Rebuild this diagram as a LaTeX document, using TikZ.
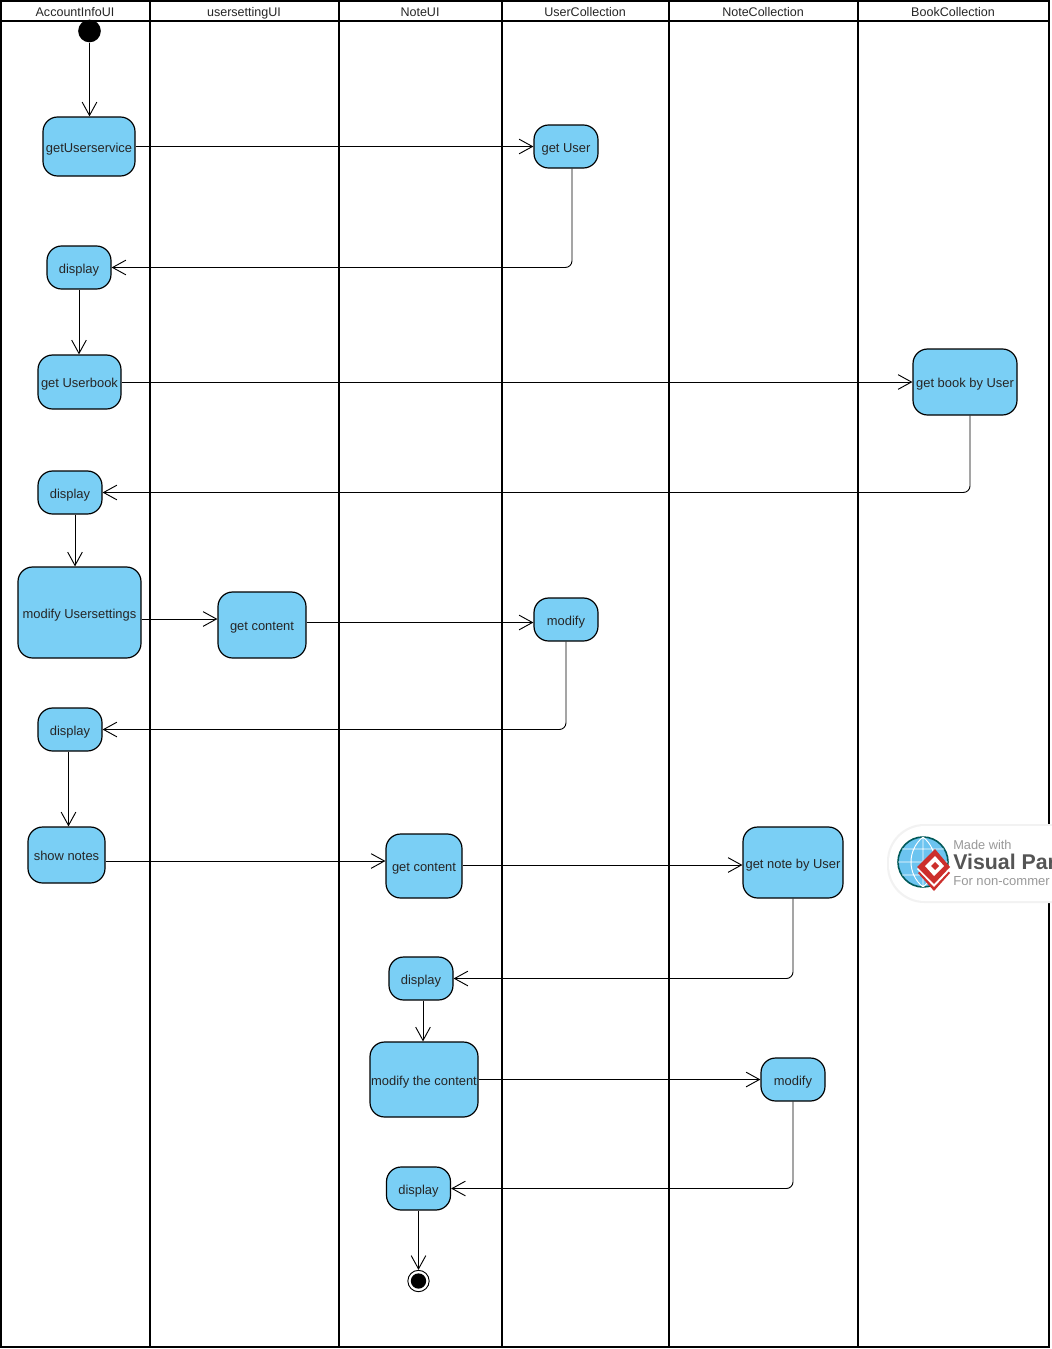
\documentclass[tikz,border=0pt]{standalone}
\usepackage{fontspec}
\setmainfont{Liberation Sans}
\usetikzlibrary{arrows.meta}
\definecolor{actblue}{HTML}{7ACFF5}
\definecolor{vpblue}{HTML}{6CC4F0}
\definecolor{vpred}{HTML}{CC2F2C}
\definecolor{vpgrey}{HTML}{555555}
\tikzset{
  act/.style 2 args={draw,fill=actblue,rounded corners=11pt,line width=0.9pt,inner sep=0pt,
    minimum width=#1*0.75pt,minimum height=#2*0.75pt,text=black!85,text height=8.8pt,text depth=0pt,
    font=\fontsize{9.7}{12}\selectfont},
  flow/.style={line width=0.7pt,-{Straight Barb[length=10pt,width=11pt,line width=0.7pt]}},
  elbow/.style={flow,rounded corners=5pt},
  lane/.style={line width=1.9pt},
  lanelabel/.style={inner sep=0pt,text=black!85,text height=7pt,text depth=2pt,font=\fontsize{9.4}{11}\selectfont}
}

\begin{document}
\begin{tikzpicture}[x=0.75pt,y=-0.75pt]
  \useasboundingbox (0,0) rectangle (1051,1349);
  \fill[white] (0,0) rectangle (1051,1349);

  % lanes
  \draw[lane] (1,1) rectangle (1049,1347);
  \draw[lane] (1,21) -- (1049,21);
  \foreach \x in {150,339,502,669,858} {
    \draw[lane] (\x,1) -- (\x,1347);
  }
  \foreach \x/\name in {75/AccountInfoUI,244/usersettingUI,420/NoteUI,585/UserCollection,763/NoteCollection,953/BookCollection} {
    \node[lanelabel] (lane\name) at (\x,13) {\name};
  }

  % activities
  \node[circle,fill=black,inner sep=0pt,minimum size=17pt] (start) at (89.5,31) {};
  \node[act={92}{59}] (getservice) at (89,146.5) {getUserservice};
  \node[act={64}{43}] (getuser) at (566,146.5) {get User};
  \node[act={64}{43}] (displayA) at (79,267.5) {display};
  \node[act={83}{54}] (getbook) at (79.5,382) {get Userbook};
  \node[act={104}{66}] (bookbyuser) at (965,382) {get book by User};
  \node[act={64}{43}] (displayB) at (70,492.5) {display};
  \node[act={123}{91}] (modsettings) at (79.5,612.5) {modify Usersettings};
  \node[act={88}{66}] (contentA) at (262,625) {get content};
  \node[act={64}{43}] (modifyA) at (566,619.5) {modify};
  \node[act={64}{43}] (displayC) at (70,729.5) {display};
  \node[act={77}{56}] (shownotes) at (66.5,855) {show notes};
  \node[act={76}{64}] (contentB) at (424,866) {get content};
  \node[act={100}{71}] (notebyuser) at (793,862.5) {get note by User};
  \node[act={64}{43}] (displayD) at (421,978.5) {display};
  \node[act={108}{75}] (modcontent) at (424,1079.5) {modify the content};
  \node[act={64}{43}] (modifyB) at (793,1079.5) {modify};
  \node[act={64}{43}] (displayE) at (418.5,1188.5) {display};
  \node[circle,draw,fill=white,line width=0.7pt,inner sep=0pt,minimum size=16pt] (finish) at (418.5,1281) {};
  \node[circle,fill=black,inner sep=0pt,minimum size=11.5pt] (finishdot) at (418.5,1281) {};

  % flows
  \draw[flow] (start) -- (start |- getservice.north);
  \draw[flow] (getservice) -- (getuser);
  \draw[elbow] (getuser.south -| 572,0) |- (displayA.east);
  \draw[flow] (displayA) -- (displayA |- getbook.north);
  \draw[flow] (getbook) -- (bookbyuser);
  \draw[elbow] (bookbyuser.south -| 970,0) |- (displayB.east);
  \draw[flow] (displayB.south -| 75,0) -- (modsettings.north -| 75,0);
  \draw[flow] (modsettings.east |- 0,619) -- (contentA.west |- 0,619);
  \draw[flow] (contentA.east |- 0,622.5) -- (modifyA.west |- 0,622.5);
  \draw[elbow] (modifyA.south) |- (displayC.east);
  \draw[flow] (displayC.south -| 68.5,0) -- (shownotes.north -| 68.5,0);
  \draw[flow] (shownotes.east |- 0,861) -- (contentB.west |- 0,861);
  \draw[flow] (contentB.east |- 0,865) -- (notebyuser.west |- 0,865);
  \draw[elbow] (notebyuser.south) |- (displayD.east);
  \draw[flow] (displayD.south -| 423,0) -- (modcontent.north -| 423,0);
  \draw[flow] (modcontent) -- (modifyB);
  \draw[elbow] (modifyB.south) |- (displayE.east);
  \draw[flow] (displayE) -- (finish);

  % watermark
  \fill[black!5,rounded corners=28pt] (887,824) rectangle (1120,903);
  \fill[white,rounded corners=27pt] (889,826) rectangle (1120,901);
  \fill[vpblue] (923,862) circle (25);
  \draw[teal!70!black,line width=1.2pt] (923,862) circle (25);
  \draw[white,line width=0.7pt] (898,862) -- (948,862) (923,837) -- (923,887)
    (902,849) -- (944,849) (902,875) -- (944,875)
    (923,837) .. controls (907,850) and (907,874) .. (923,887)
    (923,837) .. controls (939,850) and (939,874) .. (923,887);
  \fill[vpred] (918,873) -- (935,856) -- (950,873) -- (934,891) -- cycle;
  \fill[white] (917,869) -- (935,851) -- (951,869) -- (934,887) -- cycle;
  \fill[vpred] (917,867) -- (935,849) -- (950,867) -- (934,884) -- cycle;
  \fill[white] (925,866) -- (935,856) -- (944,866) -- (934,876) -- cycle;
  \fill[vpred] (931,866) -- (935,862) -- (939,866) -- (935,870) -- cycle;
  \node[anchor=west,inner sep=0pt,text=black!40,font=\fontsize{9.6}{11}\selectfont] (vpmade) at (953,845) {Made with};
  \node[anchor=west,inner sep=0pt,text=vpgrey,font=\fontsize{16}{18}\selectfont\bfseries] (vpname) at (953,862) {Visual Par};
  \node[anchor=west,inner sep=0pt,text=black!40,font=\fontsize{9.8}{11}\selectfont] (vpuse) at (953,881) {For non-commer};
\end{tikzpicture}
\end{document}
